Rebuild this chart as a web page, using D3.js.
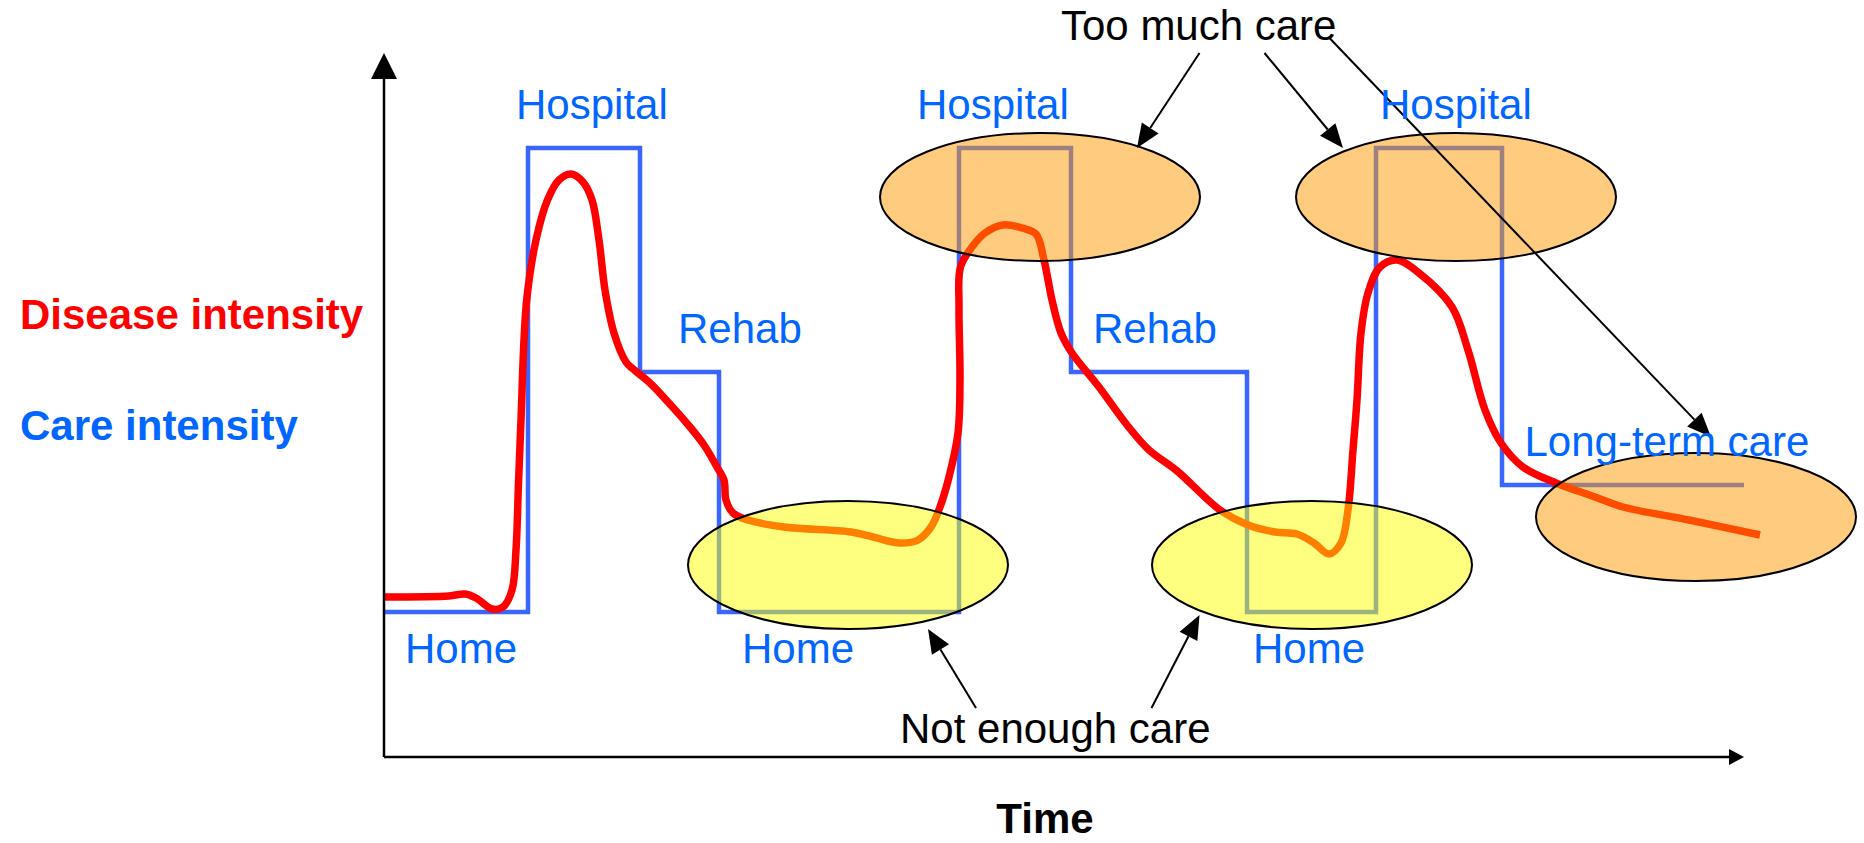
<!DOCTYPE html>
<html>
<head>
<meta charset="utf-8">
<script src="https://cdn.jsdelivr.net/npm/d3@7"></script>
<style>
body{margin:0;background:#fff;}
text{font-family:"Liberation Sans",Arial,sans-serif;}
</style>
</head>
<body>
<div id="plot"></div>
<script>
// care setting over time (a step function)
var careSettings = ['Home','Hospital','Rehab','Home','Hospital','Rehab','Home','Hospital','Long-term care'];
var careStart = [0,14.4,25.6,33.5,57.5,68.7,86.3,99.2,111.8];
var careEnd = 136;
var levelNames = ['Home','Rehab','Long-term care','Hospital'];
var levelValues = [14.5,38.5,27.2,60.9];

// disease intensity
var diseaseTime = [0,6.5,8.1,9.2,10.8,11.9,12.8,13.2,13.45,13.7,14.0,14.3,15.2,16.35,17.5,18.7,19.9,20.8,21.5,22.1,23.0,24.2,24.8,26.6,28.4,30.6,32.0,33.3,34.0,34.2,34.9,36.4,40.0,46.7,48.9,51.6,53.4,54.7,55.6,56.5,57.4,57.6,57.5,57.65,58.8,60.1,61.9,63.8,65.2,66.0,66.8,67.7,68.8,71.5,74.3,76.5,79.2,83.6,86.4,89.1,91.3,93.0,94.5,95.7,96.4,96.9,97.3,97.7,98.4,99.6,101.3,103.5,106.8,108.4,110.1,111.7,113.9,117.2,121.1,123.9,130.5,137.6];
var diseaseValue = [16.0,16.1,16.3,15.9,14.8,15.0,16.7,20.7,27.4,33.7,41.7,46.0,51.7,55.7,57.7,58.3,57.5,55.7,51.7,46.7,42.4,39.5,38.9,37.4,35.5,33.0,31.2,29.0,27.7,25.7,24.4,23.7,23.0,22.5,22.0,21.4,21.7,23.0,25.0,28.0,32.4,37.7,45.0,49.0,51.0,52.4,53.2,52.9,52.3,49.7,45.7,42.4,40.4,37.0,33.2,30.7,28.7,24.7,23.2,22.5,22.3,21.4,20.3,21.4,24.7,30.7,35.7,42.4,46.4,49.0,49.7,48.4,45.0,40.7,34.7,31.4,29.0,27.4,26.0,25.0,23.7,22.2];

// highlighted regions
var tooMuchT = [65.6,107.2,131.2];
var tooMuchV = [56.0,56.0,24.0];
var notEnoughT = [46.4,92.8];
var notEnoughV = [19.2,19.2];

var W = 1864, H = 843;
var svg = d3.select('#plot').append('svg')
	.attr('width',W).attr('height',H)
	.style('display','block');

var x = d3.scaleLinear().domain([0,careEnd]).range([384,1744]);
var y = d3.scaleLinear().domain([0,70.4]).range([757,53]);

function levelOf(name){ return levelValues[levelNames.indexOf(name)]; }

// care intensity step line
var carePts = careSettings.map(function(s,i){ return [careStart[i], levelOf(s)]; });
carePts.push([careEnd, levelOf(careSettings[careSettings.length-1])]);
svg.append('path')
	.datum(carePts)
	.attr('d', d3.line().x(function(d){return x(d[0]);}).y(function(d){return y(d[1]);}).curve(d3.curveStepAfter))
	.attr('fill','none')
	.attr('stroke','#3A66FF')
	.attr('stroke-width',4.5);

// disease intensity curve
var dPts = diseaseTime.map(function(t,i){ return [t, diseaseValue[i]]; });
svg.append('path')
	.datum(dPts)
	.attr('d', d3.line().x(function(d){return x(d[0]);}).y(function(d){return y(d[1]);}).curve(d3.curveCatmullRom.alpha(0.5)))
	.attr('fill','none')
	.attr('stroke','#FF0000')
	.attr('stroke-width',7.5)
	.attr('stroke-linejoin','round');

// ellipses on top (semi transparent)
var rx = 16, ry = 6.4;
function ellipses(ts, vs, col){
	ts.forEach(function(t,i){
		svg.append('ellipse')
			.attr('cx',x(t)).attr('cy',y(vs[i]))
			.attr('rx',x(rx)-x(0)).attr('ry',y(0)-y(ry))
			.attr('fill',col).attr('fill-opacity',0.5)
			.attr('stroke','#000').attr('stroke-width',2);
	});
}
ellipses(notEnoughT, notEnoughV, '#FFFF00');
ellipses(tooMuchT, tooMuchV, '#FF9900');

// arrow helper: line + triangle head
function arrow(x1,y1,x2,y2,len,wid,sw){
	var a = Math.atan2(y2-y1,x2-x1);
	var bx = x2-len*Math.cos(a), by = y2-len*Math.sin(a);
	svg.append('line')
		.attr('x1',x1).attr('y1',y1).attr('x2',bx).attr('y2',by)
		.attr('stroke','#000').attr('stroke-width',sw);
	var px = -Math.sin(a)*wid/2, py = Math.cos(a)*wid/2;
	svg.append('polygon')
		.attr('points',[[x2,y2],[bx+px,by+py],[bx-px,by-py]].map(function(p){return p.join(',');}).join(' '))
		.attr('fill','#000');
}

// axes
arrow(x(0),y(0),x(0),y(70.4),26,26,2.5);
arrow(x(0),y(0),x(careEnd),y(0),15,16,2.5);

// annotation arrows [t0,v0,t1,v1]
var arrowsTooMuch = [[81.55,70.4,75.3,60.9],[88.05,70.4,95.9,60.9],[94.55,71.9,132.7,32.0]];
var arrowsNotEnough = [[59.2,4.9,54.4,12.8],[76.75,4.9,81.55,14.2]];
arrowsTooMuch.concat(arrowsNotEnough).forEach(function(a){
	arrow(x(a[0]),y(a[1]),x(a[2]),y(a[3]),24,20,2);
});

// care setting labels
var labelX = [2.1,13.2,29.4,35.8,53.3,70.9,86.9,99.6,114.05];
careSettings.forEach(function(s,i){
	var lv = levelOf(s);
	var by = s=='Home' ? y(lv)+51 : y(lv)-29;
	svg.append('text')
		.attr('x',x(labelX[i])).attr('y',by)
		.attr('fill','#0066FF')
		.style('font-size','42px')
		.text(s);
});

svg.append('text').attr('x',x(67.7)).attr('y',40)
	.style('font-size','42px').attr('fill','#000').text('Too much care');
svg.append('text').attr('x',x(51.6)).attr('y',743)
	.style('font-size','42px').attr('fill','#000').text('Not enough care');

svg.append('text').attr('x',1045).attr('y',833)
	.attr('text-anchor','middle')
	.style('font-size','42px').style('font-weight','bold').attr('fill','#000').text('Time');
svg.append('text').attr('x',20).attr('y',329)
	.style('font-size','42px').style('font-weight','bold').attr('fill','#FF0000').text('Disease intensity');
svg.append('text').attr('x',20).attr('y',440)
	.style('font-size','42px').style('font-weight','bold').attr('fill','#0066FF').text('Care intensity');
</script>
</body>
</html>
